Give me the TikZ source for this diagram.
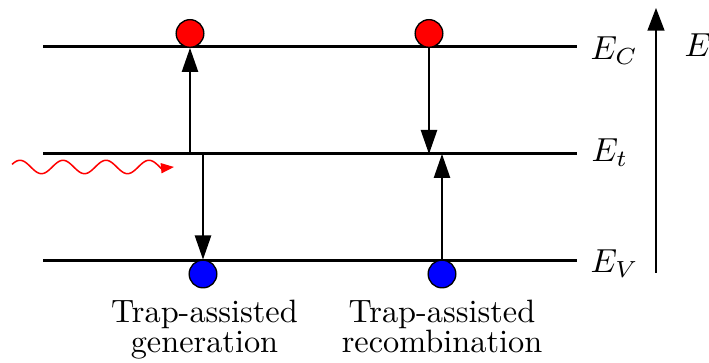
\documentclass[tikz,border=0pt]{standalone}
\usetikzlibrary{arrows.meta}
\begin{document}
\begin{tikzpicture}[x=0.3pt,y=-0.3pt,
  level/.style={line width=0.9pt},
  hop/.style={line width=0.4pt,-{Triangle[length=7.2pt,width=4.9pt]}},
  axis/.style={line width=0.4pt,-{Triangle[length=6.8pt,width=5.1pt]}},
  photon/.style={red,line width=0.45pt,-{Triangle[length=3.9pt,width=3pt]}},
  electron/.style={circle,draw=black,line width=0.4pt,fill=red,minimum size=8.3pt,inner sep=0pt},
  hole/.style={electron,fill=blue},
  lbl/.style={font=\fontsize{9.7}{9}\selectfont,align=center,anchor=north,inner sep=0pt},
  elab/.style={anchor=base west,inner sep=0pt,font=\fontsize{9.7}{11}\selectfont}]
\useasboundingbox (0,0) rectangle (709,363);

% energy levels
\coordinate (c0) at (43,47);  \coordinate (c1) at (577,47);
\coordinate (t0) at (43,154); \coordinate (t1) at (577,154);
\coordinate (v0) at (43,261); \coordinate (v1) at (577,261);
\draw[level] (c0) -- (c1);
\draw[level] (t0) -- (t1);
\draw[level] (v0) -- (v1);

\node[elab] (lc) at (590,60) {$E_C$};
\node[elab] (lt) at (591,162) {$E_t$};
\node[elab] (lv) at (590,273) {$E_V$};

% energy axis
\coordinate (a0) at (656,273);
\coordinate (a1) at (656,8);
\draw[axis] (a0) -- (a1);
\node[elab] (le) at (684,57) {$E$};

% carriers
\node[electron] (e1) at (190,33.5) {};
\node[electron] (e2) at (429,33.5) {};
\node[hole] (h1) at (203,274) {};
\node[hole] (h2) at (442,274) {};

% trap-assisted generation
\coordinate (g1) at (190,154);
\coordinate (g2) at (203,154);
\draw[hop] (g1) -- (e1.south);
\draw[hop] (g2) -- (h1.north);

% trap-assisted recombination
\coordinate (r1) at (429,154);
\coordinate (r2) at (442,154);
\draw[hop] (e2.south) -- (r1);
\draw[hop] (h2.north) -- (r2);

% incoming photon
\coordinate (p1) at (174,167);
\draw[photon] plot[domain=12:161,samples=90] (\x,{167-6.7*sin(2*pi*(\x-9.25)/43 r)}) -- (p1);

\node[lbl] (tg) at (204.5,299) {Trap-assisted\\generation};
\node[lbl] (tr) at (442,299) {Trap-assisted\\recombination};
\end{tikzpicture}
\end{document}
